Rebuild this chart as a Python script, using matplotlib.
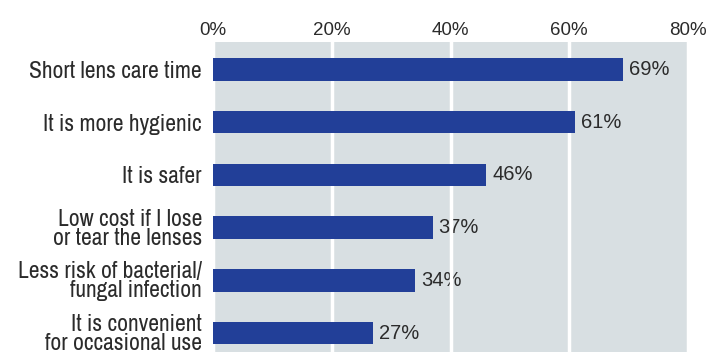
import matplotlib.pyplot as plt

# data
categories = ["Short lens care time", "It is more hygienic", "It is safer",
              "Low cost if I lose\nor tear the lenses",
              "Less risk of bacterial/\nfungal infection",
              "It is convenient\nfor occasional use"]
values = [69, 61, 46, 37, 34, 27]
xticks = [0, 20, 40, 60, 80]
xtick_labels = ["0%", "20%", "40%", "60%", "80%"]

bar_color = '#223f98'
bg_color = '#d8dfe2'
text_color = '#2b2b2b'

plt.rcParams['font.family'] = ['Liberation Sans', 'DejaVu Sans']
cat_font = ['Archivo Narrow', 'DejaVu Sans']

fig = plt.figure(figsize=(7.07, 3.52), dpi=100)
ax = fig.add_axes([213 / 707, 0, (688 - 213) / 707, (352 - 42) / 352])
ax.set_facecolor(bg_color)

ypos = list(range(len(categories)))
ax.barh(ypos, values, height=0.43, color=bar_color, zorder=3)
for y, v in zip(ypos, values):
    ax.text(v + 1.0, y, f"{v}%", va='center', ha='left', fontsize=14.5,
            color=text_color, zorder=1)

ax.set_xlim(0, 80)
ax.set_ylim(5.36, -0.52)
ax.xaxis.tick_top()
ax.set_xticks(xticks)
ax.set_xticklabels(xtick_labels, fontsize=13.5, color=text_color)
ax.tick_params(axis='x', length=0, pad=2)
ax.set_yticks(ypos)
ax.set_yticklabels(categories, fontsize=17, color=text_color, family=cat_font,
                   linespacing=0.88)
ax.tick_params(axis='y', length=0, pad=8)
ax.grid(axis='x', color='white', linewidth=2.5, zorder=2)
ax.set_axisbelow(False)
for s in ax.spines.values():
    s.set_visible(False)

plt.savefig("out.png", dpi=100)
